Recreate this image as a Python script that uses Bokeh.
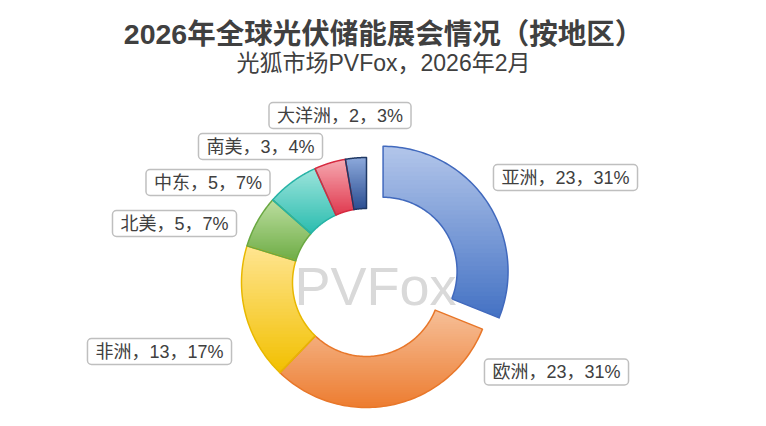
import numpy as np
from bokeh.plotting import figure
from bokeh.models import Range1d, Label, ColumnDataSource
from bokeh.embed import file_html
from bokeh.resources import INLINE

# ---- data ----
regions = ["亚洲", "欧洲", "非洲", "北美", "中东", "南美", "大洋洲"]
counts = [23, 23, 13, 5, 5, 3, 2]
percents = [31, 31, 17, 7, 7, 4, 3]

title_text = "2026年全球光伏储能展会情况（按地区）"
subtitle_text = "光狐市场PVFox，2026年2月"
watermark_text = "PVFox"

# ---- styles / layout ----
FONT = "'Liberation Sans', 'Noto Sans CJK SC'"
top_colors = ["#b3c6ea", "#f6bf98", "#ffe592", "#bcdea0", "#9ee5dc", "#f6aab2", "#8eaadc"]
bottom_colors = ["#4472c4", "#ed7d31", "#f2c000", "#6fad46", "#2bbcaf", "#e03a4f", "#2c4f92"]
line_colors = ["#4169bd", "#e8772a", "#e8b800", "#6aa842", "#27b3a6", "#d6293f", "#1f3864"]
explode = [20, 0, 0, 0, 0, 0, 0]
label_pos = [(565, 177), (556, 371.5), (159, 351), (174, 223), (207.5, 182), (260, 146), (339.5, 115)]

CX, CY = 366, 282
R_OUT, R_IN = 125, 74

p = figure(width=750, height=410, output_backend="svg", toolbar_location=None,
           x_range=Range1d(0, 750), y_range=Range1d(410, 0),
           x_axis_location=None, y_axis_location=None, min_border=0,
           background_fill_color="white", border_fill_color="white")
p.outline_line_color = None
p.grid.visible = False


def hex2rgb(h):
    h = h.lstrip("#")
    return np.array([int(h[i:i + 2], 16) for i in (0, 2, 4)], dtype=float)


def lerp_color(c0, c1, t):
    a, b = hex2rgb(c0), hex2rgb(c1)
    c = a + (b - a) * t
    return "#%02x%02x%02x" % tuple(int(round(v)) for v in c)


def sector(a0, a1, ox, oy):
    t = np.radians(np.linspace(a0, a1, 90))
    xo = CX + ox + R_OUT * np.sin(t)
    yo = CY + oy - R_OUT * np.cos(t)
    tr = t[::-1]
    xi = CX + ox + R_IN * np.sin(tr)
    yi = CY + oy - R_IN * np.cos(tr)
    return list(zip(np.concatenate([xo, xi]), np.concatenate([yo, yi])))


def clip(poly, yc, keep_greater):
    out = []
    n = len(poly)
    for i in range(n):
        cur, prev = poly[i], poly[i - 1]
        cin = cur[1] >= yc if keep_greater else cur[1] <= yc
        pin = prev[1] >= yc if keep_greater else prev[1] <= yc
        if cin != pin:
            f = (yc - prev[1]) / (cur[1] - prev[1])
            out.append((prev[0] + f * (cur[0] - prev[0]), yc))
        if cin:
            out.append(cur)
    return out


total = sum(counts)
cum = np.concatenate([[0], np.cumsum(counts)]) / total * 360.0

band_xs, band_ys, band_cols = [], [], []
out_xs, out_ys = [], []
K = 40
for i in range(len(counts)):
    a0, a1 = cum[i], cum[i + 1]
    mid = np.radians((a0 + a1) / 2)
    ox, oy = explode[i] * np.sin(mid), -explode[i] * np.cos(mid)
    poly = sector(a0, a1, ox, oy)
    ys = [q[1] for q in poly]
    ymin, ymax = min(ys), max(ys)
    h = (ymax - ymin) / K
    for k in range(K):
        lo = ymin + k * h - 0.5
        hi = ymin + (k + 1) * h + 0.5
        part = clip(clip(poly, lo, True), hi, False)
        if len(part) < 3:
            continue
        col = lerp_color(top_colors[i], bottom_colors[i], (k + 0.5) / K)
        band_xs.append([q[0] for q in part])
        band_ys.append([q[1] for q in part])
        band_cols.append(col)
    out_xs.append([q[0] for q in poly])
    out_ys.append([q[1] for q in poly])

# watermark
p.add_layout(Label(x=375, y=285, text=watermark_text, text_align="center", text_baseline="middle",
                   text_font="Liberation Sans", text_font_size="54px", text_color="#d9d9d9"))

p.patches(xs="xs", ys="ys", source=ColumnDataSource(dict(xs=band_xs, ys=band_ys, c=band_cols)),
          fill_color="c", line_color=None)
p.patches(xs="xs", ys="ys", source=ColumnDataSource(dict(xs=out_xs, ys=out_ys, c=line_colors)),
          fill_alpha=0, line_color="c", line_width=1.5, line_join="round")

# data labels
for i in range(len(counts)):
    x, y = label_pos[i]
    p.add_layout(Label(x=x, y=y, text=f"{regions[i]}，{counts[i]}，{percents[i]}%",
                       text_align="center", text_baseline="middle",
                       text_font=FONT, text_font_size="18px", text_color="#404040",
                       background_fill_color="white", border_line_color="#bfbfbf",
                       border_line_width=1.5, border_radius=4, padding=(8, 3)))

# titles
p.add_layout(Label(x=383, y=33, text=title_text, text_align="center", text_baseline="middle",
                   text_font=FONT, text_font_size="28.5px", text_font_style="bold",
                   text_color="#404040"))
p.add_layout(Label(x=383, y=62, text=subtitle_text, text_align="center", text_baseline="middle",
                   text_font=FONT, text_font_size="23px", text_color="#404040"))

open("out.html", "w").write(file_html(p, INLINE))
